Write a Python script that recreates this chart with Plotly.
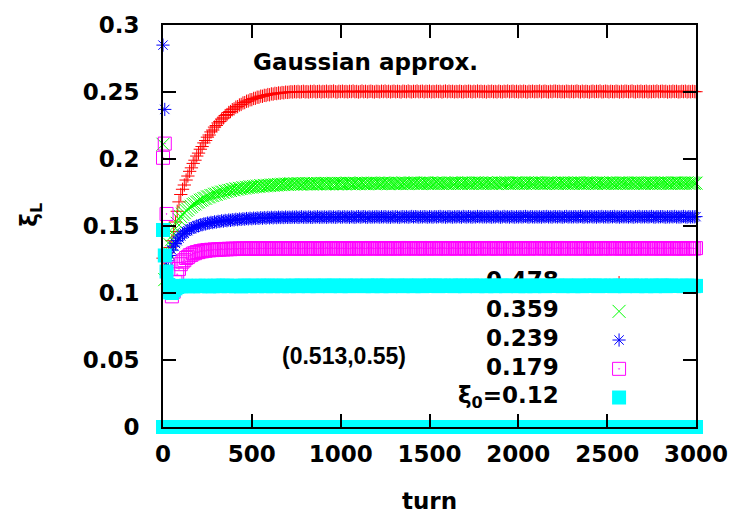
import plotly.graph_objects as go

# one sample every 10 turns
turn = list(range(0, 3001, 10))

labels = ["0.478", "0.359", "0.239", "0.179", "ξ<sub>0</sub>=0.12"]

xi_0478 = [
    # turns 0-90
    0.126, 0.125, 0.127, 0.130, 0.134, 0.139, 0.146, 0.153, 0.161, 0.168,
    # turns 100-700
    0.1735, 0.1774, 0.1806, 0.1843, 0.1873, 0.1908, 0.1934, 0.1967, 0.1991, 0.2022,
    0.2044, 0.2073, 0.2093, 0.2120, 0.2138, 0.2163, 0.2179, 0.2202, 0.2216, 0.2238,
    0.2250, 0.2269, 0.2280, 0.2298, 0.2307, 0.2324, 0.2332, 0.2347, 0.2354, 0.2368,
    0.2374, 0.2387, 0.2391, 0.2403, 0.2407, 0.2418, 0.2421, 0.2431, 0.2433, 0.2442,
    0.2443, 0.2452, 0.2453, 0.2461, 0.2461, 0.2469, 0.2468, 0.2475, 0.2474, 0.2481,
    0.2479, 0.2486, 0.2484, 0.2490, 0.2488, 0.2493, 0.2491, 0.2496, 0.2494, 0.2499,
    0.2497,
    # turns 710-3000
    0.2499, 0.2502, 0.2500, 0.2503, 0.2501, 0.2504, 0.2500, 0.2502, 0.2505, 0.2501,
    0.2503, 0.2500, 0.2504, 0.2502, 0.2506, 0.2501, 0.2503, 0.2505, 0.2500, 0.2504,
    0.2502, 0.2506, 0.2501, 0.2504, 0.2503, 0.2507, 0.2502, 0.2500, 0.2505, 0.2503,
    0.2506, 0.2502, 0.2504, 0.2501, 0.2505, 0.2503, 0.2507, 0.2502, 0.2504, 0.2500,
    0.2503, 0.2507, 0.2502, 0.2505, 0.2501, 0.2504, 0.2506, 0.2503, 0.2500, 0.2505,
    0.2504, 0.2501, 0.2506, 0.2503, 0.2507, 0.2502, 0.2505, 0.2501, 0.2504, 0.2506,
    0.2502, 0.2505, 0.2503, 0.2500, 0.2506, 0.2504, 0.2502, 0.2507, 0.2503, 0.2501,
    0.2505, 0.2503, 0.2507, 0.2502, 0.2504, 0.2506, 0.2501, 0.2505, 0.2503, 0.2506,
    0.2501, 0.2504, 0.2502, 0.2506, 0.2503, 0.2505, 0.2500, 0.2504, 0.2507, 0.2502,
    0.2506, 0.2503, 0.2505, 0.2501, 0.2504, 0.2502, 0.2506, 0.2503, 0.2501, 0.2505,
    0.2503, 0.2506, 0.2504, 0.2501, 0.2505, 0.2502, 0.2507, 0.2503, 0.2505, 0.2502,
    0.2504, 0.2500, 0.2505, 0.2503, 0.2506, 0.2502, 0.2504, 0.2501, 0.2506, 0.2503,
    0.2501, 0.2505, 0.2503, 0.2507, 0.2502, 0.2504, 0.2506, 0.2502, 0.2505, 0.2501,
    0.2505, 0.2502, 0.2506, 0.2503, 0.2500, 0.2505, 0.2503, 0.2506, 0.2502, 0.2504,
    0.2503, 0.2507, 0.2501, 0.2504, 0.2506, 0.2503, 0.2501, 0.2505, 0.2502, 0.2506,
    0.2506, 0.2503, 0.2505, 0.2502, 0.2504, 0.2501, 0.2506, 0.2504, 0.2502, 0.2505,
    0.2502, 0.2504, 0.2507, 0.2503, 0.2501, 0.2506, 0.2502, 0.2505, 0.2503, 0.2500,
    0.2504, 0.2506, 0.2502, 0.2505, 0.2503, 0.2507, 0.2501, 0.2503, 0.2506, 0.2504,
    0.2501, 0.2505, 0.2503, 0.2502, 0.2506, 0.2504, 0.2500, 0.2505, 0.2502, 0.2506,
    0.2505, 0.2502, 0.2504, 0.2507, 0.2503, 0.2501, 0.2505, 0.2503, 0.2506, 0.2502,
    0.2503, 0.2506, 0.2501, 0.2504, 0.2502, 0.2505, 0.2503, 0.2507, 0.2502, 0.2504,
    0.2506, 0.2503, 0.2505, 0.2500, 0.2504, 0.2502, 0.2506, 0.2503, 0.2505, 0.2501,
    0.2502, 0.2505, 0.2503, 0.2506, 0.2501, 0.2504, 0.2502, 0.2505, 0.2503, 0.2502,
]

xi_0359 = [
    0.211, 0.110, 0.122, 0.130, 0.136, 0.140, 0.144, 0.148, 0.152, 0.155,
    0.1570, 0.1588, 0.1599, 0.1616, 0.1625, 0.1640, 0.1647, 0.1660, 0.1665, 0.1677,
    0.1681, 0.1692, 0.1695, 0.1705, 0.1707, 0.1717, 0.1718, 0.1727, 0.1728, 0.1737,
    0.1737, 0.1745, 0.1745, 0.1753, 0.1752, 0.1760, 0.1759, 0.1766, 0.1765, 0.1772,
    0.1770, 0.1777, 0.1775, 0.1781, 0.1779, 0.1785, 0.1783, 0.1789, 0.1787, 0.1792,
    0.1790, 0.1795, 0.1793, 0.1798, 0.1795, 0.1801, 0.1798, 0.1803, 0.1800, 0.1804,
    0.1802, 0.1806, 0.1804, 0.1808, 0.1806, 0.1810, 0.1808, 0.1812, 0.1809, 0.1813,
    0.1811,
    0.1813, 0.1816, 0.1812, 0.1815, 0.1813, 0.1817, 0.1814, 0.1812, 0.1816, 0.1814,
    0.1817, 0.1814, 0.1816, 0.1813, 0.1818, 0.1815, 0.1817, 0.1814, 0.1816, 0.1818,
    0.1815, 0.1818, 0.1814, 0.1817, 0.1815, 0.1819, 0.1816, 0.1814, 0.1818, 0.1816,
    0.1818, 0.1815, 0.1817, 0.1820, 0.1816, 0.1818, 0.1815, 0.1819, 0.1817, 0.1815,
    0.1817, 0.1820, 0.1816, 0.1818, 0.1815, 0.1819, 0.1817, 0.1820, 0.1816, 0.1818,
    0.1819, 0.1816, 0.1818, 0.1821, 0.1817, 0.1819, 0.1816, 0.1820, 0.1818, 0.1816,
    0.1817, 0.1820, 0.1818, 0.1816, 0.1821, 0.1818, 0.1820, 0.1817, 0.1819, 0.1821,
    0.1818, 0.1821, 0.1817, 0.1819, 0.1816, 0.1820, 0.1818, 0.1822, 0.1817, 0.1819,
    0.1820, 0.1817, 0.1819, 0.1822, 0.1818, 0.1820, 0.1817, 0.1821, 0.1819, 0.1817,
    0.1818, 0.1821, 0.1819, 0.1817, 0.1822, 0.1818, 0.1820, 0.1817, 0.1821, 0.1819,
    0.1821, 0.1818, 0.1820, 0.1817, 0.1821, 0.1819, 0.1822, 0.1818, 0.1820, 0.1817,
    0.1819, 0.1822, 0.1818, 0.1820, 0.1817, 0.1821, 0.1819, 0.1817, 0.1822, 0.1820,
    0.1818, 0.1820, 0.1823, 0.1819, 0.1817, 0.1821, 0.1818, 0.1820, 0.1822, 0.1819,
    0.1821, 0.1818, 0.1820, 0.1817, 0.1822, 0.1819, 0.1821, 0.1818, 0.1820, 0.1823,
    0.1819, 0.1822, 0.1818, 0.1820, 0.1817, 0.1821, 0.1819, 0.1822, 0.1818, 0.1820,
    0.1820, 0.1817, 0.1821, 0.1819, 0.1822, 0.1818, 0.1820, 0.1817, 0.1821, 0.1819,
    0.1818, 0.1821, 0.1819, 0.1822, 0.1818, 0.1820, 0.1817, 0.1821, 0.1819, 0.1822,
    0.1821, 0.1818, 0.1820, 0.1817, 0.1822, 0.1819, 0.1821, 0.1818, 0.1820, 0.1818,
    0.1819, 0.1822, 0.1818, 0.1820, 0.1817, 0.1821, 0.1819, 0.1822, 0.1818, 0.1820,
    0.1820, 0.1818, 0.1821, 0.1819, 0.1817, 0.1822, 0.1819, 0.1821, 0.1818, 0.1820,
    0.1818, 0.1821, 0.1819, 0.1822, 0.1818, 0.1820, 0.1817, 0.1821, 0.1819, 0.1820,
    0.1821, 0.1819, 0.1822, 0.1818, 0.1820, 0.1817, 0.1821, 0.1819, 0.1822, 0.1819,
    0.1820, 0.1818, 0.1821, 0.1819, 0.1822, 0.1818, 0.1820, 0.1821, 0.1819, 0.1820,
]

xi_0239 = [
    0.285, 0.237, 0.118, 0.124, 0.128, 0.132, 0.135, 0.137, 0.139, 0.141,
    0.1425, 0.1439, 0.1446, 0.1460, 0.1465, 0.1477, 0.1480, 0.1490, 0.1492, 0.1501,
    0.1501, 0.1509, 0.1509, 0.1516, 0.1515, 0.1522, 0.1521, 0.1527, 0.1525, 0.1531,
    0.1529, 0.1535, 0.1533, 0.1539, 0.1536, 0.1542, 0.1539, 0.1545, 0.1542, 0.1547,
    0.1545, 0.1550, 0.1547, 0.1552, 0.1549, 0.1554, 0.1551, 0.1556, 0.1553, 0.1558,
    0.1554, 0.1559, 0.1556, 0.1560, 0.1557, 0.1562, 0.1558, 0.1563, 0.1559, 0.1564,
    0.1560, 0.1565, 0.1561, 0.1565, 0.1562, 0.1566, 0.1563, 0.1566, 0.1563, 0.1567,
    0.1564,
    0.1566, 0.1564, 0.1567, 0.1565, 0.1568, 0.1564, 0.1566, 0.1569, 0.1565, 0.1567,
    0.1565, 0.1568, 0.1566, 0.1564, 0.1568, 0.1566, 0.1569, 0.1565, 0.1567, 0.1566,
    0.1568, 0.1565, 0.1567, 0.1569, 0.1566, 0.1568, 0.1565, 0.1567, 0.1570, 0.1566,
    0.1567, 0.1569, 0.1566, 0.1568, 0.1565, 0.1569, 0.1567, 0.1565, 0.1568, 0.1570,
    0.1566, 0.1568, 0.1570, 0.1567, 0.1565, 0.1569, 0.1566, 0.1568, 0.1567, 0.1569,
    0.1568, 0.1566, 0.1569, 0.1567, 0.1570, 0.1566, 0.1568, 0.1565, 0.1569, 0.1567,
    0.1569, 0.1567, 0.1565, 0.1568, 0.1570, 0.1567, 0.1569, 0.1566, 0.1568, 0.1571,
    0.1567, 0.1570, 0.1568, 0.1566, 0.1569, 0.1567, 0.1570, 0.1568, 0.1566, 0.1569,
    0.1568, 0.1566, 0.1570, 0.1567, 0.1569, 0.1571, 0.1567, 0.1569, 0.1566, 0.1568,
    0.1570, 0.1568, 0.1566, 0.1569, 0.1567, 0.1570, 0.1568, 0.1566, 0.1571, 0.1568,
    0.1567, 0.1570, 0.1568, 0.1566, 0.1569, 0.1567, 0.1571, 0.1568, 0.1570, 0.1567,
    0.1569, 0.1567, 0.1570, 0.1568, 0.1566, 0.1569, 0.1567, 0.1571, 0.1568, 0.1566,
    0.1568, 0.1571, 0.1567, 0.1569, 0.1566, 0.1570, 0.1568, 0.1566, 0.1569, 0.1567,
    0.1570, 0.1567, 0.1569, 0.1571, 0.1568, 0.1566, 0.1570, 0.1568, 0.1567, 0.1569,
    0.1567, 0.1569, 0.1566, 0.1570, 0.1568, 0.1571, 0.1567, 0.1569, 0.1566, 0.1570,
    0.1569, 0.1567, 0.1570, 0.1568, 0.1566, 0.1569, 0.1571, 0.1567, 0.1569, 0.1568,
    0.1568, 0.1570, 0.1567, 0.1569, 0.1571, 0.1568, 0.1566, 0.1570, 0.1567, 0.1569,
    0.1570, 0.1567, 0.1569, 0.1566, 0.1570, 0.1568, 0.1571, 0.1567, 0.1569, 0.1568,
    0.1567, 0.1570, 0.1568, 0.1571, 0.1567, 0.1569, 0.1566, 0.1570, 0.1568, 0.1569,
    0.1569, 0.1567, 0.1570, 0.1568, 0.1566, 0.1570, 0.1568, 0.1571, 0.1567, 0.1569,
    0.1568, 0.1570, 0.1567, 0.1569, 0.1571, 0.1568, 0.1566, 0.1570, 0.1568, 0.1569,
    0.1570, 0.1568, 0.1566, 0.1569, 0.1567, 0.1570, 0.1568, 0.1571, 0.1567, 0.1568,
    0.1567, 0.1569, 0.1571, 0.1568, 0.1566, 0.1570, 0.1567, 0.1569, 0.1568, 0.1570,
    0.1569,
]

xi_0179 = [
    0.2009, 0.2115, 0.159, 0.118, 0.103, 0.0975, 0.101, 0.108, 0.114, 0.118,
    0.1215, 0.1234, 0.1245, 0.1261, 0.1268, 0.1281, 0.1285, 0.1295, 0.1297, 0.1305,
    0.1305, 0.1312, 0.1311, 0.1317, 0.1315, 0.1321, 0.1318, 0.1323, 0.1320, 0.1325,
    0.1322, 0.1326, 0.1324, 0.1328, 0.1325, 0.1329, 0.1326, 0.1330, 0.1327, 0.1331,
    0.1328, 0.1331, 0.1329, 0.1332, 0.1329, 0.1332, 0.1330, 0.1333, 0.1330, 0.1333,
    0.1331, 0.1334, 0.1331, 0.1333, 0.1331, 0.1334, 0.1332, 0.1334, 0.1331, 0.1333,
    0.1332, 0.1334, 0.1332, 0.1335, 0.1332, 0.1334, 0.1333, 0.1335, 0.1332, 0.1334,
    0.1333,
    0.1332, 0.1334, 0.1333, 0.1335, 0.1332, 0.1334, 0.1333, 0.1331, 0.1334, 0.1333,
    0.1335, 0.1332, 0.1334, 0.1333, 0.1335, 0.1333, 0.1331, 0.1334, 0.1332, 0.1335,
    0.1333, 0.1335, 0.1332, 0.1334, 0.1336, 0.1333, 0.1335, 0.1332, 0.1334, 0.1333,
    0.1334, 0.1332, 0.1335, 0.1333, 0.1331, 0.1334, 0.1336, 0.1333, 0.1335, 0.1332,
    0.1335, 0.1333, 0.1334, 0.1332, 0.1335, 0.1333, 0.1336, 0.1334, 0.1332, 0.1335,
    0.1333, 0.1335, 0.1332, 0.1334, 0.1336, 0.1333, 0.1334, 0.1332, 0.1335, 0.1334,
    0.1332, 0.1334, 0.1336, 0.1333, 0.1335, 0.1332, 0.1334, 0.1336, 0.1333, 0.1335,
    0.1334, 0.1332, 0.1335, 0.1333, 0.1336, 0.1334, 0.1332, 0.1335, 0.1333, 0.1334,
    0.1336, 0.1333, 0.1335, 0.1332, 0.1334, 0.1336, 0.1333, 0.1335, 0.1334, 0.1332,
    0.1335, 0.1333, 0.1336, 0.1334, 0.1332, 0.1335, 0.1333, 0.1334, 0.1336, 0.1333,
    0.1333, 0.1335, 0.1332, 0.1334, 0.1336, 0.1333, 0.1335, 0.1332, 0.1334, 0.1335,
    0.1336, 0.1334, 0.1332, 0.1335, 0.1333, 0.1336, 0.1334, 0.1332, 0.1335, 0.1333,
    0.1334, 0.1336, 0.1333, 0.1335, 0.1332, 0.1334, 0.1336, 0.1333, 0.1335, 0.1334,
    0.1332, 0.1335, 0.1333, 0.1336, 0.1334, 0.1332, 0.1335, 0.1333, 0.1334, 0.1336,
    0.1335, 0.1333, 0.1336, 0.1334, 0.1332, 0.1335, 0.1333, 0.1336, 0.1334, 0.1333,
    0.1333, 0.1336, 0.1334, 0.1332, 0.1335, 0.1333, 0.1336, 0.1334, 0.1335, 0.1332,
    0.1335, 0.1333, 0.1334, 0.1336, 0.1333, 0.1335, 0.1332, 0.1334, 0.1336, 0.1333,
    0.1334, 0.1332, 0.1335, 0.1333, 0.1336, 0.1334, 0.1332, 0.1335, 0.1333, 0.1335,
    0.1336, 0.1334, 0.1332, 0.1335, 0.1333, 0.1336, 0.1334, 0.1333, 0.1335, 0.1332,
    0.1333, 0.1335, 0.1334, 0.1332, 0.1336, 0.1333, 0.1335, 0.1334, 0.1332, 0.1335,
    0.1335, 0.1333, 0.1336, 0.1334, 0.1332, 0.1335, 0.1333, 0.1336, 0.1334, 0.1333,
    0.1334, 0.1332, 0.1335, 0.1333, 0.1336, 0.1334, 0.1333, 0.1335, 0.1332, 0.1334,
    0.1333, 0.1335, 0.1332, 0.1334, 0.1336, 0.1333, 0.1335, 0.1334, 0.1332, 0.1335,
    0.1334,
]

xi_0120 = [
    0.147, 0.128, 0.116, 0.106, 0.1005, 0.1000, 0.1020, 0.1035, 0.1045, 0.1050,
    0.1051, 0.1053, 0.1052, 0.1054, 0.1051, 0.1053, 0.1052, 0.1050, 0.1053, 0.1052,
    0.1054, 0.1051, 0.1053, 0.1052, 0.1054, 0.1052, 0.1050, 0.1053, 0.1051, 0.1054,
    0.1052, 0.1054, 0.1051, 0.1053, 0.1055, 0.1052, 0.1054, 0.1051, 0.1053, 0.1052,
    0.1053, 0.1051, 0.1054, 0.1052, 0.1050, 0.1053, 0.1055, 0.1052, 0.1054, 0.1051,
    0.1054, 0.1052, 0.1053, 0.1051, 0.1054, 0.1052, 0.1055, 0.1053, 0.1051, 0.1054,
    0.1052, 0.1054, 0.1051, 0.1053, 0.1055, 0.1052, 0.1053, 0.1051, 0.1054, 0.1053,
    0.1052,
    0.1051, 0.1053, 0.1055, 0.1052, 0.1054, 0.1051, 0.1053, 0.1055, 0.1052, 0.1054,
    0.1053, 0.1051, 0.1054, 0.1052, 0.1055, 0.1053, 0.1051, 0.1054, 0.1052, 0.1053,
    0.1055, 0.1052, 0.1054, 0.1051, 0.1053, 0.1055, 0.1052, 0.1054, 0.1053, 0.1051,
    0.1054, 0.1052, 0.1055, 0.1053, 0.1051, 0.1054, 0.1052, 0.1053, 0.1055, 0.1052,
    0.1052, 0.1054, 0.1051, 0.1053, 0.1055, 0.1052, 0.1054, 0.1051, 0.1053, 0.1054,
    0.1055, 0.1053, 0.1051, 0.1054, 0.1052, 0.1055, 0.1053, 0.1051, 0.1054, 0.1052,
    0.1053, 0.1055, 0.1052, 0.1054, 0.1051, 0.1053, 0.1055, 0.1052, 0.1054, 0.1053,
    0.1051, 0.1054, 0.1052, 0.1055, 0.1053, 0.1051, 0.1054, 0.1052, 0.1053, 0.1055,
    0.1054, 0.1052, 0.1055, 0.1053, 0.1051, 0.1054, 0.1052, 0.1055, 0.1053, 0.1052,
    0.1052, 0.1055, 0.1053, 0.1051, 0.1054, 0.1052, 0.1055, 0.1053, 0.1054, 0.1051,
    0.1054, 0.1052, 0.1053, 0.1055, 0.1052, 0.1054, 0.1051, 0.1053, 0.1055, 0.1052,
    0.1053, 0.1051, 0.1054, 0.1052, 0.1055, 0.1053, 0.1051, 0.1054, 0.1052, 0.1054,
    0.1055, 0.1053, 0.1051, 0.1054, 0.1052, 0.1055, 0.1053, 0.1052, 0.1054, 0.1051,
    0.1052, 0.1054, 0.1053, 0.1051, 0.1055, 0.1052, 0.1054, 0.1053, 0.1051, 0.1054,
    0.1054, 0.1052, 0.1055, 0.1053, 0.1051, 0.1054, 0.1052, 0.1055, 0.1053, 0.1052,
    0.1053, 0.1055, 0.1052, 0.1054, 0.1051, 0.1053, 0.1055, 0.1052, 0.1054, 0.1053,
    0.1051, 0.1054, 0.1052, 0.1055, 0.1053, 0.1051, 0.1054, 0.1052, 0.1053, 0.1055,
    0.1054, 0.1052, 0.1055, 0.1053, 0.1051, 0.1054, 0.1052, 0.1055, 0.1053, 0.1052,
    0.1052, 0.1055, 0.1053, 0.1051, 0.1054, 0.1052, 0.1055, 0.1053, 0.1054, 0.1051,
    0.1054, 0.1052, 0.1053, 0.1055, 0.1052, 0.1054, 0.1051, 0.1053, 0.1055, 0.1052,
    0.1053, 0.1051, 0.1054, 0.1052, 0.1055, 0.1053, 0.1051, 0.1054, 0.1052, 0.1054,
    0.1055, 0.1053, 0.1051, 0.1054, 0.1052, 0.1055, 0.1053, 0.1052, 0.1054, 0.1052,
    0.1052, 0.1054, 0.1051, 0.1053, 0.1055, 0.1052, 0.1054, 0.1053, 0.1051, 0.1053,
    0.1052,
]

# the vertical-plane column of the xi0=0.12 run stays at zero
xi_0120_v = [
    0, 0, 0, 0, 0, 0, 0, 0, 0, 0, 0, 0, 0, 0, 0, 0, 0, 0, 0, 0,
    0, 0, 0, 0, 0, 0, 0, 0, 0, 0, 0, 0, 0, 0, 0, 0, 0, 0, 0, 0,
    0, 0, 0, 0, 0, 0, 0, 0, 0, 0, 0, 0, 0, 0, 0, 0, 0, 0, 0, 0,
    0, 0, 0, 0, 0, 0, 0, 0, 0, 0, 0, 0, 0, 0, 0, 0, 0, 0, 0, 0,
    0, 0, 0, 0, 0, 0, 0, 0, 0, 0, 0, 0, 0, 0, 0, 0, 0, 0, 0, 0,
    0, 0, 0, 0, 0, 0, 0, 0, 0, 0, 0, 0, 0, 0, 0, 0, 0, 0, 0, 0,
    0, 0, 0, 0, 0, 0, 0, 0, 0, 0, 0, 0, 0, 0, 0, 0, 0, 0, 0, 0,
    0, 0, 0, 0, 0, 0, 0, 0, 0, 0, 0, 0, 0, 0, 0, 0, 0, 0, 0, 0,
    0, 0, 0, 0, 0, 0, 0, 0, 0, 0, 0, 0, 0, 0, 0, 0, 0, 0, 0, 0,
    0, 0, 0, 0, 0, 0, 0, 0, 0, 0, 0, 0, 0, 0, 0, 0, 0, 0, 0, 0,
    0, 0, 0, 0, 0, 0, 0, 0, 0, 0, 0, 0, 0, 0, 0, 0, 0, 0, 0, 0,
    0, 0, 0, 0, 0, 0, 0, 0, 0, 0, 0, 0, 0, 0, 0, 0, 0, 0, 0, 0,
    0, 0, 0, 0, 0, 0, 0, 0, 0, 0, 0, 0, 0, 0, 0, 0, 0, 0, 0, 0,
    0, 0, 0, 0, 0, 0, 0, 0, 0, 0, 0, 0, 0, 0, 0, 0, 0, 0, 0, 0,
    0, 0, 0, 0, 0, 0, 0, 0, 0, 0, 0, 0, 0, 0, 0, 0, 0, 0, 0, 0,
    0,
]

series = [xi_0478, xi_0359, xi_0239, xi_0179, xi_0120]

FONT = "DejaVu Sans"
FS = 23
colors = ["#ff0000", "#00ff00", "#0000ff", "#ff00ff", "#00ffff"]
symbols = ["cross-thin", "x-thin", "asterisk", "square-open-dot", "square"]
sizes = [9.5, 13, 11, 13, 14]

# gnuplot-style key: labels right-aligned, sample point to their right
KEY_TEXT_X = 2228
KEY_MARK_X = 2567
KEY_ROWS = [0.1077, 0.0863, 0.0649, 0.0434, 0.0220]


def marker(i):
    return dict(symbol=symbols[i], size=sizes[i], color=colors[i],
                line=dict(color=colors[i], width=1 if i < 4 else 0))


def bold(size=FS, family=FONT):
    return dict(family=family, size=size, color="black", weight="bold")


fig = go.Figure()
for i, ys in enumerate(series):
    fig.add_trace(go.Scatter(
        x=[KEY_TEXT_X], y=[KEY_ROWS[i]], mode="text", text=[labels[i]],
        textposition="middle left", textfont=bold(),
        showlegend=False, hoverinfo="skip", cliponaxis=False))
    fig.add_trace(go.Scatter(
        x=[KEY_MARK_X], y=[KEY_ROWS[i]], mode="markers", marker=marker(i),
        showlegend=False, hoverinfo="skip", cliponaxis=False))
    fig.add_trace(go.Scatter(
        x=turn, y=ys, mode="markers", marker=marker(i),
        showlegend=False, cliponaxis=False))

fig.add_trace(go.Scatter(
    x=turn, y=xi_0120_v, mode="markers", marker=marker(4),
    showlegend=False, cliponaxis=False))

axis_common = dict(
    showgrid=False, zeroline=False, showline=True, linecolor="black", linewidth=2,
    mirror="ticks", ticks="inside", ticklen=13, tickwidth=2, tickcolor="black",
    tickfont=bold(), layer="above traces",
)

fig.update_layout(
    width=740, height=514,
    margin=dict(l=163, r=38, t=21, b=87),
    paper_bgcolor="white", plot_bgcolor="white",
    font=bold(),
    xaxis=dict(range=[0, 3000], tick0=0, dtick=500, ticklabelstandoff=5, **axis_common),
    yaxis=dict(range=[0, 0.3], tick0=0, dtick=0.05, ticklabelstandoff=17, **axis_common),
    annotations=[
        dict(text="Gaussian approx.", xref="paper", yref="paper", x=0.380, y=0.907,
             showarrow=False, xanchor="center", yanchor="middle", font=bold()),
        dict(text="(0.513,0.55)", xref="paper", yref="paper", x=0.339, y=0.177,
             showarrow=False, xanchor="center", yanchor="middle",
             font=bold(23, "Liberation Sans")),
        dict(text="turn", xref="paper", yref="paper", x=0.5, y=-0.2225,
             showarrow=False, xanchor="center", yanchor="bottom", font=bold()),
        dict(text="ξ<sub>L</sub>", xref="paper", yref="paper", x=-0.2466, y=0.527,
             showarrow=False, xanchor="center", yanchor="middle", textangle=-90,
             font=bold()),
    ],
)

fig.write_html("out.html")
